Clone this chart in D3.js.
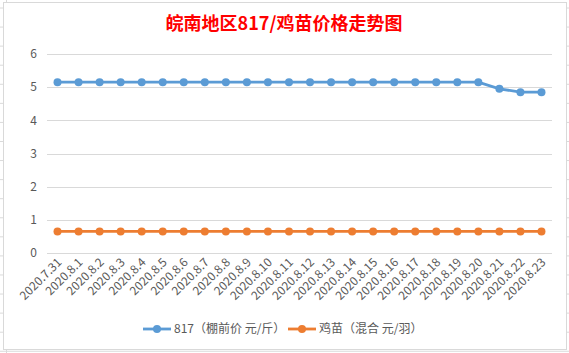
<!DOCTYPE html>
<html>
<head>
<meta charset="utf-8">
<script src="https://cdn.jsdelivr.net/npm/d3@7"></script>
<style>
  body { margin: 0; background: #fff; }
  text { font-family: "Noto Sans CJK SC", "Noto Sans", sans-serif; }
</style>
</head>
<body>
<svg id="chart" width="569" height="353"></svg>
<script>
// data
const dates = ["2020.7.31", "2020.8.1", "2020.8.2", "2020.8.3", "2020.8.4", "2020.8.5",
  "2020.8.6", "2020.8.7", "2020.8.8", "2020.8.9", "2020.8.10", "2020.8.11", "2020.8.12",
  "2020.8.13", "2020.8.14", "2020.8.15", "2020.8.16", "2020.8.17", "2020.8.18",
  "2020.8.19", "2020.8.20", "2020.8.21", "2020.8.22", "2020.8.23"];
const price817 = [5.15, 5.15, 5.15, 5.15, 5.15, 5.15, 5.15, 5.15, 5.15, 5.15, 5.15, 5.15,
  5.15, 5.15, 5.15, 5.15, 5.15, 5.15, 5.15, 5.15, 5.15, 4.95, 4.85, 4.85];
const chickPrice = [0.65, 0.65, 0.65, 0.65, 0.65, 0.65, 0.65, 0.65, 0.65, 0.65, 0.65, 0.65,
  0.65, 0.65, 0.65, 0.65, 0.65, 0.65, 0.65, 0.65, 0.65, 0.65, 0.65, 0.65];
const yTicks = [0, 1, 2, 3, 4, 5, 6];
const seriesNames = ["817（棚前价 元/斤）", "鸡苗（混合 元/羽）"];
const colors = ["#5b9bd5", "#ed7d31"];

const svg = d3.select("#chart");

// spreadsheet behind the chart
const rows = d3.range(8, 353, 19.07);
svg.selectAll("line.row").data(rows).join("line")
    .attr("x1", 0).attr("x2", 569)
    .attr("y1", d => d).attr("y2", d => d)
    .attr("stroke", "#dadada");
svg.append("line").attr("x1", 6.5).attr("x2", 6.5).attr("y1", 0).attr("y2", 353).attr("stroke", "#dadada");

// chart area
svg.append("rect")
    .attr("x", 3.5).attr("y", 2.5)
    .attr("width", 563).attr("height", 347)
    .attr("fill", "#fff")
    .attr("stroke", "#d9d9d9");

const margin = { top: 54, left: 47 },
    width = 505,
    height = 199;

const g = svg.append("g").attr("transform", `translate(${margin.left},${margin.top})`);

const x = d3.scaleBand().domain(dates).range([0, width]);
const y = d3.scaleLinear().domain([0, 6]).range([height, 0]);

// gridlines
g.selectAll("line.grid").data(yTicks).join("line")
    .attr("x1", 0).attr("x2", width)
    .attr("y1", d => Math.round(y(d)) + 0.5).attr("y2", d => Math.round(y(d)) + 0.5)
    .attr("stroke", "#d9d9d9");

// y labels
g.selectAll("text.ylab").data(yTicks).join("text")
    .attr("x", -10).attr("y", d => y(d))
    .attr("dy", "0.35em")
    .attr("text-anchor", "end")
    .attr("font-size", 12)
    .attr("fill", "#595959")
    .text(d => d);

// x labels
g.selectAll("text.xlab").data(dates).join("text")
    .attr("text-anchor", "end")
    .attr("font-size", 12)
    .attr("fill", "#595959")
    .attr("transform", d => `translate(${x(d) + x.bandwidth() / 2 + 5},${height + 10}) rotate(-45)`)
    .text(d => d);

// series
const line = d3.line().x((d, i) => x(dates[i]) + x.bandwidth() / 2).y(d => y(d));
[price817, chickPrice].forEach((vals, k) => {
    g.append("path").datum(vals)
        .attr("d", line)
        .attr("fill", "none")
        .attr("stroke", colors[k])
        .attr("stroke-width", 2.8);
    g.selectAll(null).data(vals).join("circle")
        .attr("cx", (d, i) => x(dates[i]) + x.bandwidth() / 2)
        .attr("cy", d => y(d))
        .attr("r", 4)
        .attr("fill", colors[k]);
});

// title
svg.append("text")
    .attr("x", 284).attr("y", 30)
    .attr("text-anchor", "middle")
    .attr("font-size", 18)
    .attr("font-weight", "bold")
    .attr("fill", "#ff0000")
    .text("皖南地区817/鸡苗价格走势图");

// legend
const legendX = [143, 288];
seriesNames.forEach((name, k) => {
    const lg = svg.append("g").attr("transform", `translate(${legendX[k]},329)`);
    lg.append("line").attr("x1", 0).attr("x2", 28).attr("y1", 0).attr("y2", 0)
        .attr("stroke", colors[k]).attr("stroke-width", 2.8);
    lg.append("circle").attr("cx", 14).attr("cy", 0).attr("r", 4).attr("fill", colors[k]);
    lg.append("text").attr("x", 31).attr("y", 0).attr("dy", "0.35em")
        .attr("font-size", 12).attr("fill", "#595959").text(name);
});
</script>
</body>
</html>
